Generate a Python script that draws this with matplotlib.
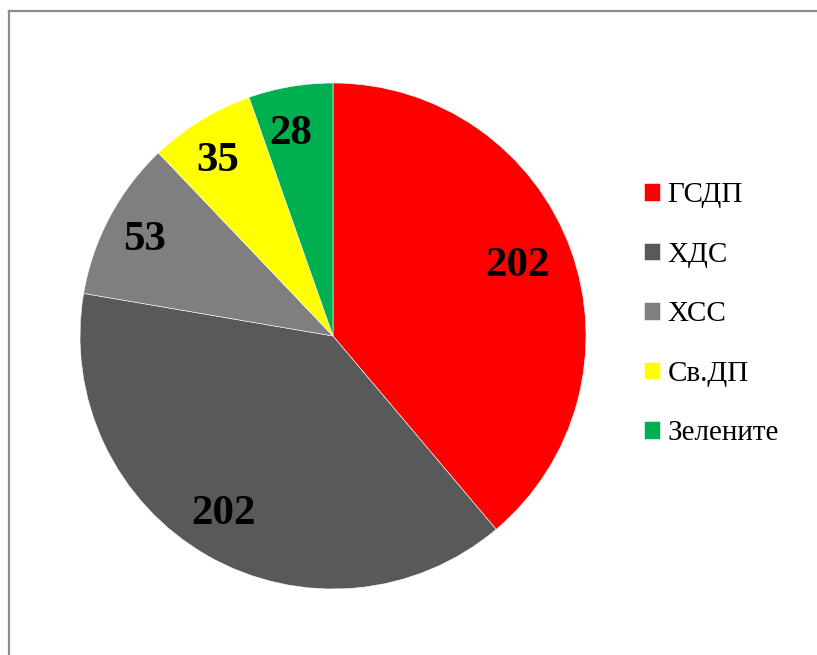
import matplotlib.pyplot as plt
from matplotlib.lines import Line2D
import matplotlib.transforms as mtransforms

labels = ['ГСДП', 'ХДС', 'ХСС', 'Св.ДП', 'Зелените']
seats = [202, 202, 53, 35, 28]
colors = ['#FF0000', '#595959', '#7F7F7F', '#FFFF00', '#00B050']

fig = plt.figure(figsize=(8.17, 6.55), dpi=100)
W, H = 817, 655

# pie area: centre ~ (333, 336) px, radius ~253 px
ax = fig.add_axes([80 / W, (H - 589) / H, 506 / W, 506 / H])
wedges, texts, autotexts = ax.pie(
    seats, colors=colors, startangle=90, counterclock=False,
    autopct=lambda p: '%d' % round(p * sum(seats) / 100),
    pctdistance=0.81, radius=1,
    wedgeprops=dict(edgecolor='white', linewidth=0.4),
    textprops=dict(family='Liberation Serif', fontweight='bold',
                   fontsize=31, color='black'))
# Excel places the labels a little to the left
shift = mtransforms.ScaledTranslation(-8 / 100, 0, fig.dpi_scale_trans)
for t in autotexts:
    t.set_transform(t.get_transform() + shift)

ax.set_xlim(-1, 1)
ax.set_ylim(-1, 1)
ax.set_aspect('equal')
ax.axis('off')

fig.legend(wedges, labels, loc='upper left',
           bbox_to_anchor=(618 / W, 1 - 156 / H),
           frameon=False, handlelength=0.55, handleheight=0.55,
           handletextpad=0.25, labelspacing=1.15,
           prop=dict(family='Liberation Serif', size=21))

# frame (right and bottom edges fall outside the picture)
fig.add_artist(Line2D([9 / W, 9 / W], [0, 1 - 11 / H], color='#8c8c8c',
                      linewidth=1.6, transform=fig.transFigure))
fig.add_artist(Line2D([9 / W, 1], [1 - 11 / H, 1 - 11 / H], color='#8c8c8c',
                      linewidth=1.6, transform=fig.transFigure))

fig.savefig('out.png', dpi=100)
